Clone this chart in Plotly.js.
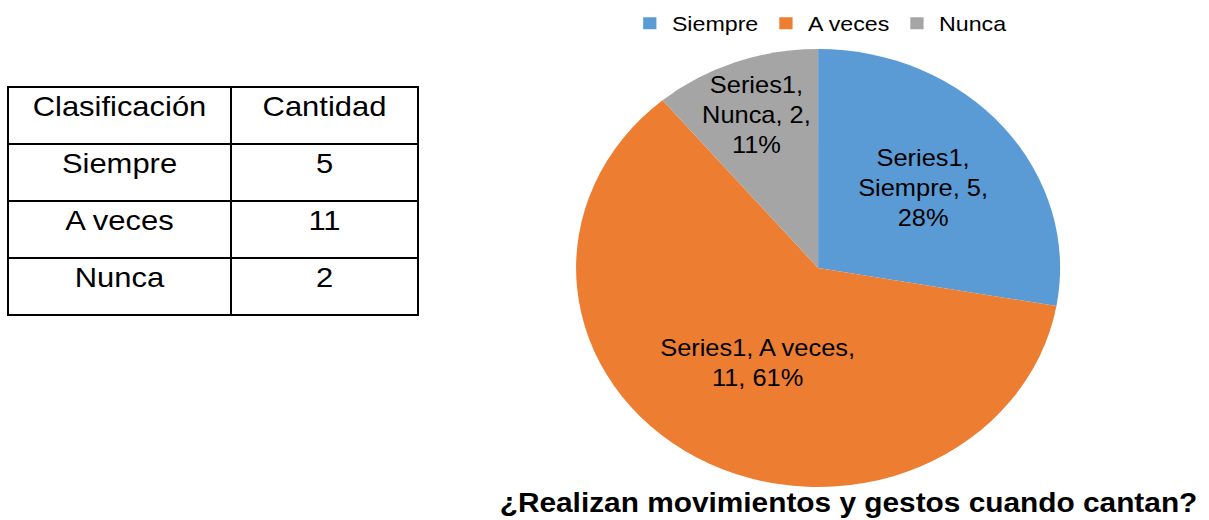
<!DOCTYPE html>
<html>
<head>
<meta charset="utf-8">
<script src="https://cdn.plot.ly/plotly-3.0.1.min.js"></script>
<style>
  html, body { margin: 0; padding: 0; background: #ffffff; overflow: hidden; }
  #wrap { width: 1209px; height: 520px; overflow: hidden; }
  #chart { width: 1094px; height: 520px; transform: scaleX(1.1051); transform-origin: 0 0; }
</style>
</head>
<body>
<div id="wrap"><div id="chart"></div></div>
<script>
// ---- data ----
const categories = ["Siempre", "A veces", "Nunca"];
const values = [5, 11, 2];
const seriesName = "Series1";
const tableHeader = ["Clasificación", "Cantidad"];
const chartTitle = "¿Realizan movimientos y gestos cuando cantan?";

// ---- styling ----
const colors = ["#5B9BD5", "#ED7D31", "#A5A5A5"];
const font = "Liberation Sans, Arial, sans-serif";
const labelTemplates = [
  seriesName + ",<br>%{label}, %{value},<br>%{percent:.0%}",
  seriesName + ", %{label},<br>%{value}, %{percent:.0%}",
  seriesName + ",<br>%{label}, %{value},<br>%{percent:.0%}"
];

const W = 1094, H = 520;

const pie = {
  type: "pie",
  labels: categories,
  values: values,
  name: seriesName,
  sort: false,
  direction: "clockwise",
  rotation: 0,
  marker: { colors: colors, line: { width: 0 } },
  texttemplate: labelTemplates,
  textposition: "inside",
  insidetextorientation: "horizontal",
  textfont: { family: font, size: 23, color: "#000000" },
  hoverinfo: "skip",
  domain: { x: [521.3 / W, 959.3 / W], y: [1 - 487 / H, 1 - 49 / H] }
};

const table = {
  type: "table",
  columnwidth: [223, 187],
  domain: { x: [7.24 / W, 378.3 / W], y: [0, 1 - 87 / H] },
  header: {
    values: tableHeader,
    align: "center",
    height: 57,
    line: { color: "#000000", width: 1.2 },
    fill: { color: "#ffffff" },
    font: { family: font, size: 28, color: "#000000" }
  },
  cells: {
    values: [categories, values],
    align: "center",
    height: 57,
    line: { color: "#000000", width: 1.2 },
    fill: { color: "#ffffff" },
    font: { family: font, size: 28, color: "#000000" }
  }
};

const layout = {
  width: W,
  height: H,
  margin: { l: 0, r: 0, t: 0, b: 0 },
  paper_bgcolor: "#ffffff",
  plot_bgcolor: "#ffffff",
  showlegend: true,
  legend: {
    orientation: "h",
    x: 742 / W,
    xanchor: "center",
    y: 1 - 3 / H,
    yanchor: "top",
    font: { family: font, size: 21, color: "#000000" },
    traceorder: "normal"
  },
  uniformtext: { mode: "show", minsize: 23 },
  annotations: [{
    text: "<b>" + chartTitle + "</b>",
    xref: "paper", yref: "paper",
    x: 768 / W, y: 1 - 503 / H,
    xanchor: "center", yanchor: "middle",
    showarrow: false,
    font: { family: font, size: 27, color: "#000000" }
  }]
};

Plotly.newPlot("chart", [table, pie], layout, { displayModeBar: false, staticPlot: true });
</script>
</body>
</html>
